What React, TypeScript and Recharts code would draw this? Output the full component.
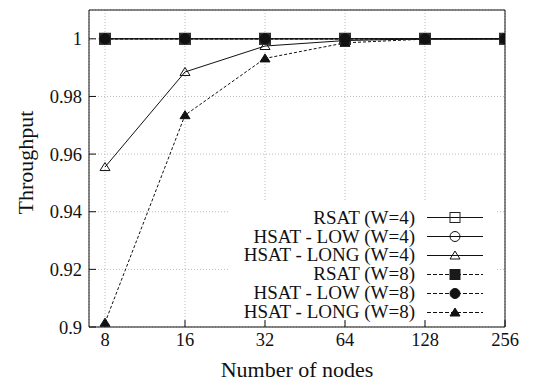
import React from 'react';
import { LineChart, Line, XAxis, YAxis, CartesianGrid, Label } from 'recharts';

// x categories (number of nodes), plotted on a log2 axis
const nodes = [8, 16, 32, 64, 128, 256];

// throughput per series
const rsatW4 = [1, 1, 1, 1, 1, 1];
const hsatLowW4 = [1, 1, 1, 1, 1, 1];
const hsatLongW4 = [0.9555, 0.9885, 0.9975, 0.9994, 1, 1];
const rsatW8 = [1, 1, 1, 1, 1, 1];
const hsatLowW8 = [1, 1, 1, 1, 1, 1];
const hsatLongW8 = [0.9015, 0.9735, 0.9932, 0.9986, 0.9999, 1];

const yTicks = [0.9, 0.92, 0.94, 0.96, 0.98, 1];

const FONT = '"Liberation Serif", "Times New Roman", serif';

type Shape = 'square' | 'circle' | 'triangle';

const seriesList: { key: string; name: string; values: number[]; shape: Shape; filled: boolean; dashed: boolean }[] = [
  { key: 'rsatW4', name: 'RSAT (W=4)', values: rsatW4, shape: 'square', filled: false, dashed: false },
  { key: 'hsatLowW4', name: 'HSAT - LOW (W=4)', values: hsatLowW4, shape: 'circle', filled: false, dashed: false },
  { key: 'hsatLongW4', name: 'HSAT - LONG (W=4)', values: hsatLongW4, shape: 'triangle', filled: false, dashed: false },
  { key: 'rsatW8', name: 'RSAT (W=8)', values: rsatW8, shape: 'square', filled: true, dashed: true },
  { key: 'hsatLowW8', name: 'HSAT - LOW (W=8)', values: hsatLowW8, shape: 'circle', filled: true, dashed: true },
  { key: 'hsatLongW8', name: 'HSAT - LONG (W=8)', values: hsatLongW8, shape: 'triangle', filled: true, dashed: true },
];

const data = nodes.map((n, i) => {
  const row: any = { x: Math.log2(n) };
  seriesList.forEach((s) => {
    row[s.key] = s.values[i];
  });
  return row;
});

const xTicks = nodes.map((n) => Math.log2(n));

const Marker = ({ cx, cy, shape, filled, legend }: { cx: number; cy: number; shape: Shape; filled: boolean; legend?: boolean }) => {
  if (cx == null || cy == null) return null;
  if (shape === 'square') {
    const s = legend ? 10 : 11;
    return (
      <rect
        x={cx - s / 2}
        y={cy - s / 2}
        width={s}
        height={s}
        fill={filled ? (legend ? '#1a1a1a' : '#2e2e2e') : 'none'}
        stroke={filled ? (legend ? '#1a1a1a' : '#2e2e2e') : legend ? '#222' : '#888'}
        strokeWidth={1}
      />
    );
  }
  if (shape === 'circle') {
    return <circle cx={cx} cy={cy} r={5} fill={filled ? '#111' : 'none'} stroke="#111" strokeWidth={1} />;
  }
  return (
    <polygon
      points={`${cx},${cy - 4.5} ${cx - 5},${cy + 3.5} ${cx + 5},${cy + 3.5}`}
      fill={filled ? '#111' : 'none'}
      stroke="#111"
      strokeWidth={1}
    />
  );
};

const YLabel = (props: any) => {
  const vb = props.viewBox || {};
  const x = vb.x + 25;
  const y = vb.y + vb.height / 2 - 6;
  return (
    <text
      x={x}
      y={y}
      transform={`rotate(-90, ${x}, ${y})`}
      textAnchor="middle"
      dominantBaseline="central"
      fontFamily={FONT}
      fontSize={22}
      fill="#111"
    >
      Throughput
    </text>
  );
};

const tickStyle = { fill: '#111', fontSize: 18.5, fontFamily: FONT };

export default function App() {
  return (
    <div style={{ position: 'absolute', left: 0, top: 0, width: 534, height: 381, background: '#fff' }}>
      <LineChart width={534} height={381} data={data} margin={{ top: 0, right: 0, bottom: 0, left: 0 }}>
        <CartesianGrid stroke="#bbb" strokeDasharray="1 2" />
        <XAxis
          dataKey="x"
          type="number"
          domain={[2.8, 8]}
          ticks={xTicks}
          interval={0}
          tickFormatter={(v: number) => String(Math.round(Math.pow(2, v)))}
          tick={tickStyle}
          height={54}
          tickSize={-7}
          tickMargin={13}
          stroke="#111"
          allowDataOverflow
        >
          <Label value="Number of nodes" position="insideBottom" offset={4.5} fill="#111" fontSize={22} fontFamily={FONT} />
        </XAxis>
        <XAxis
          xAxisId="top"
          orientation="top"
          dataKey="x"
          type="number"
          domain={[2.8, 8]}
          ticks={xTicks}
          interval={0}
          tick={false}
          height={10}
          tickSize={-7}
          stroke="#111"
          allowDataOverflow
        />
        <YAxis
          type="number"
          domain={[0.9, 1.01]}
          ticks={yTicks}
          interval={0}
          tick={tickStyle}
          width={89}
          tickSize={-7}
          tickMargin={14}
          stroke="#111"
          allowDataOverflow
        >
          <Label content={<YLabel />} />
        </YAxis>
        <YAxis
          yAxisId="right"
          orientation="right"
          type="number"
          domain={[0.9, 1.01]}
          ticks={yTicks}
          interval={0}
          tick={false}
          width={29}
          tickSize={-7}
          stroke="#111"
          allowDataOverflow
        />
        {seriesList.map((s) => (
          <Line
            key={s.key}
            dataKey={s.key}
            name={s.name}
            stroke="#111"
            strokeWidth={1}
            strokeDasharray={s.dashed ? '3 2' : undefined}
            isAnimationActive={false}
            dot={(p: any) => <Marker key={`${s.key}-${p.index}`} cx={p.cx} cy={p.cy} shape={s.shape} filled={s.filled} />}
            activeDot={false}
          />
        ))}
      </LineChart>
      {/* legend box, white background hides the grid behind it */}
      <div style={{ position: 'absolute', left: 228, top: 200, width: 269, height: 120, background: '#fff' }}>
        {seriesList.map((s, i) => (
          <div
            key={s.key}
            style={{ position: 'absolute', left: 0, top: 17.7 + i * 18.92 - 8.1, width: 269, height: 16 }}
          >
            <div
              style={{
                position: 'absolute',
                right: 269 - 187,
                top: 0,
                whiteSpace: 'nowrap',
                fontFamily: FONT,
                fontSize: 19,
                lineHeight: '16px',
                color: '#111',
              }}
            >
              {s.name}
            </div>
            <svg style={{ position: 'absolute', left: 199, top: -1.4 }} width={56} height={19}>
              <line
                x1={0}
                x2={56}
                y1={9.5}
                y2={9.5}
                stroke="#111"
                strokeWidth={1}
                strokeDasharray={s.dashed ? '4 2' : undefined}
              />
              <Marker cx={28} cy={9.5} shape={s.shape} filled={s.filled} legend />
            </svg>
          </div>
        ))}
      </div>
    </div>
  );
}
